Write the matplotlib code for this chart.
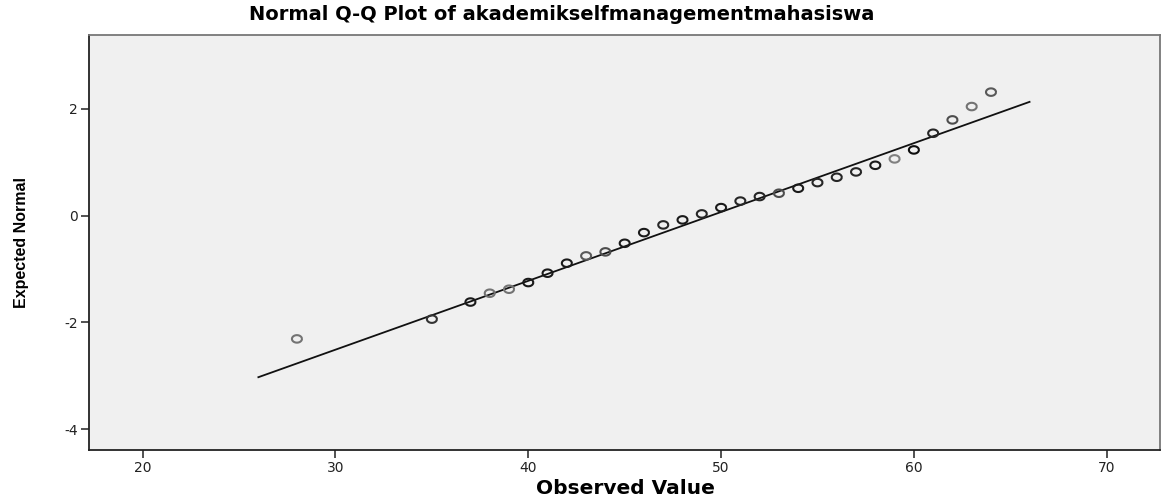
import numpy as np
import matplotlib
matplotlib.use("Agg")
import matplotlib.pyplot as plt

observed = [28, 35, 37, 38, 39, 40, 41, 42, 43, 44, 45, 46, 47, 48, 49, 50,
            51, 52, 53, 54, 55, 56, 57, 58, 59, 60, 61, 62, 63, 64]
expected = [-2.31, -1.94, -1.62, -1.455, -1.38, -1.255, -1.08, -0.893, -0.756, -0.681,
            -0.52, -0.32, -0.176, -0.082, 0.03, 0.148, 0.27, 0.355, 0.417, 0.51,
            0.616, 0.716, 0.816, 0.94, 1.06, 1.228, 1.54, 1.79, 2.04, 2.31]
# darkness of each circle (SPSS overplots repeated cases)
shade = [0.45, 0.2, 0.1, 0.45, 0.45, 0.1, 0.1, 0.1, 0.35, 0.3,
         0.1, 0.1, 0.15, 0.1, 0.15, 0.1, 0.15, 0.15, 0.3, 0.1,
         0.15, 0.15, 0.15, 0.1, 0.5, 0.05, 0.15, 0.3, 0.45, 0.35]

# reference line
line_x = [26, 66]
mean_val = 49.49
sd_val = 7.76

xticks = [20, 30, 40, 50, 60, 70]
yticks = [-4, -2, 0, 2]

plt.rcParams["axes.unicode_minus"] = False

fig = plt.figure(figsize=(11.66, 4.99), dpi=100)
ax = fig.add_axes([89.3 / 1166, 1 - 450 / 499, (1159.5 - 89.3) / 1166, (450 - 34.7) / 499])
ax.set_facecolor("#f0f0f0")

lx = np.array(line_x, dtype=float)
ax.plot(lx, (lx - mean_val) / sd_val, color="#111111", lw=1.3, zorder=2)

t = np.linspace(0, 2 * np.pi, 41)
ell = np.column_stack([np.cos(t), 0.75 * np.sin(t)])
cols = [(s, s, s) for s in shade]
ax.scatter(observed, expected, marker=ell, s=(10 * 0.72) ** 2, facecolors="none",
           edgecolors=cols, linewidths=1.5, zorder=3)

ax.set_xlim(17.23, 72.74)
ax.set_ylim(-4.39, 3.385)
ax.set_xticks(xticks)
ax.set_yticks(yticks)
ax.tick_params(direction="out", length=6, width=1.2, color="#333333",
               labelsize=10, labelcolor="#222222", pad=2)
for lab in ax.get_xticklabels() + ax.get_yticklabels():
    lab.set_family("DejaVu Sans")
for sp in ["left", "bottom"]:
    ax.spines[sp].set_color("#222222")
    ax.spines[sp].set_linewidth(1.3)
for sp in ["top", "right"]:
    ax.spines[sp].set_color("#777777")
    ax.spines[sp].set_linewidth(1.3)

fig.text(562 / 1166, 1 - 15 / 499, "Normal Q-Q Plot of akademikselfmanagementmahasiswa",
         ha="center", va="center", fontsize=14, fontweight="bold",
         family=["DejaVu Sans"])
fig.text(625 / 1166, 1 - 488 / 499, "Observed Value", ha="center", va="center",
         fontsize=14.5, fontweight="bold", family=["DejaVu Sans"])
fig.text(22 / 1166, 1 - 243 / 499, "Expected Normal", ha="center", va="center",
         rotation=90, fontsize=11.5, fontweight="bold",
         family=["Liberation Sans", "DejaVu Sans"])

fig.savefig("out.png", dpi=100)
